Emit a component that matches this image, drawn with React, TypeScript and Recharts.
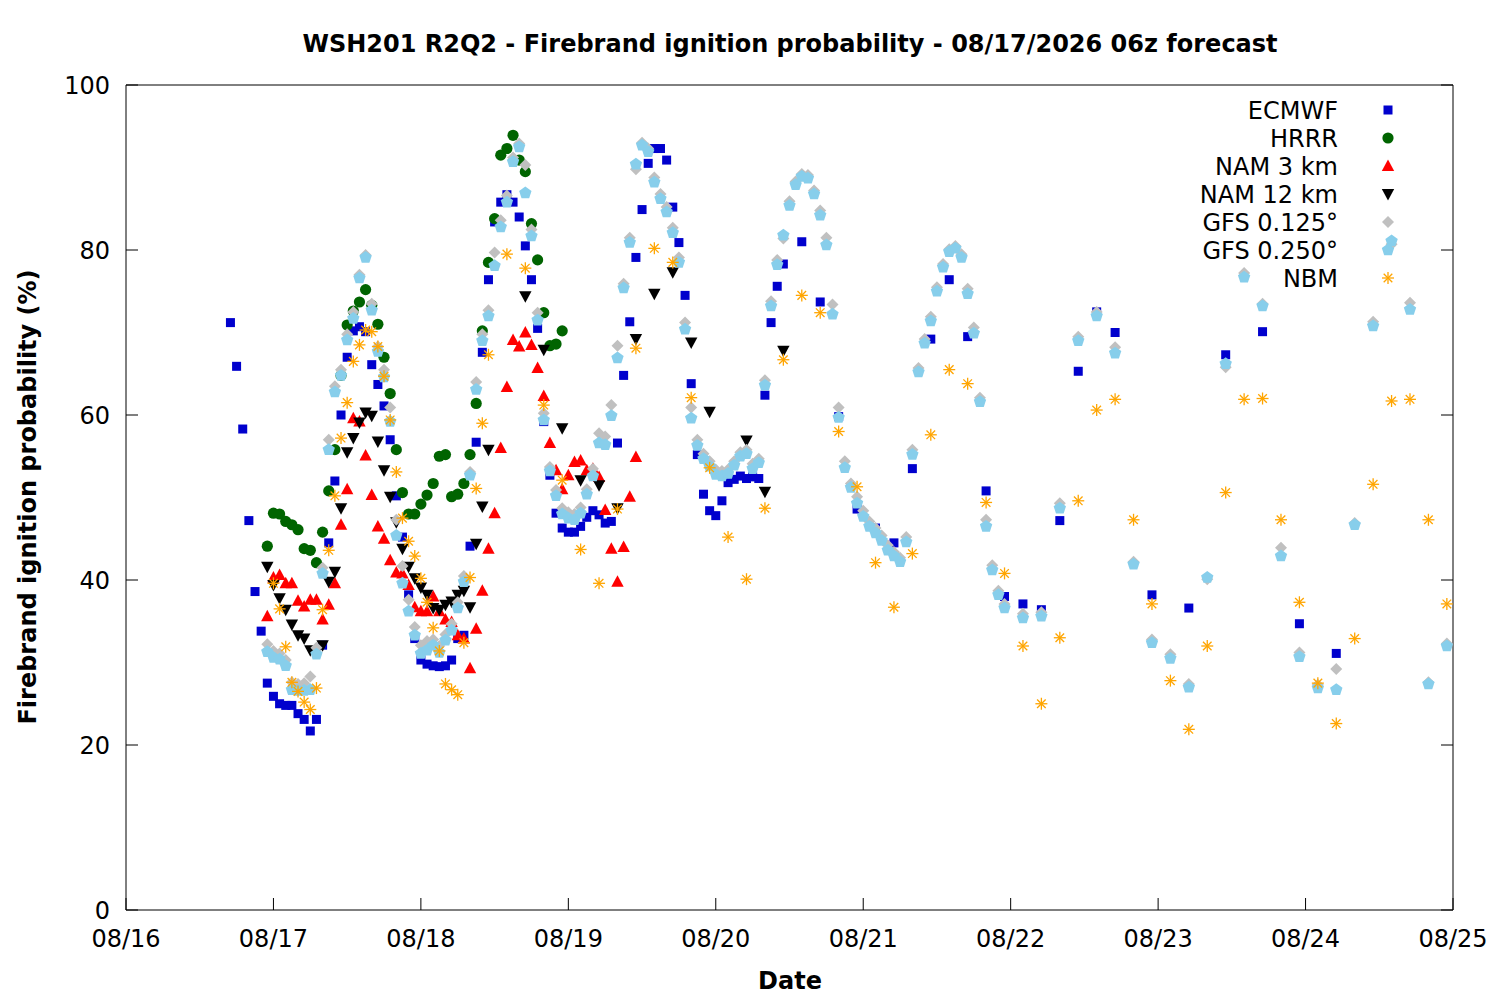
import { ScatterChart, Scatter, XAxis, YAxis, Legend } from "recharts";

type Pt = [number, number];

// x = hours since 08/16 00, y = probability (%)
const dateLabels = ["08/16", "08/17", "08/18", "08/19", "08/20", "08/21", "08/22", "08/23", "08/24", "08/25"];
const xTicks = [0, 24, 48, 72, 96, 120, 144, 168, 192, 216];
const yTicks = [0, 20, 40, 60, 80, 100];

const ECMWF: Pt[] = [
  [17, 71.2], [18, 65.9], [19, 58.3], [20, 47.2], [21, 38.6], [22, 33.8], [23, 27.5], [24, 25.9], [25, 25.0], [26, 24.8],
  [27, 24.8], [28, 23.8], [29, 23.1], [30, 21.7], [31, 23.1], [32, 32.1], [33, 44.5], [34, 52.0], [35, 60.0], [36, 67.0],
  [37, 70.2], [38, 70.7], [39, 70.1], [40, 66.1], [41, 63.7], [42, 61.1], [43, 57.0], [44, 50.2], [45, 45.2], [46, 38.2],
  [47, 32.9], [48, 30.3], [49, 29.8], [50, 29.6], [51, 29.5], [52, 29.6], [53, 30.3], [54, 32.9], [55, 33.3], [56, 44.1],
  [57, 56.7], [58, 67.6], [59, 76.4], [60, 83.4], [61, 85.8], [62, 86.7], [63, 85.8], [64, 84.0], [65, 80.5], [66, 76.4],
  [67, 70.5], [68, 59.2], [69, 52.7], [70, 48.1], [71, 46.3], [72, 45.8], [73, 45.8], [74, 46.5], [75, 47.6], [76, 48.4],
  [77, 47.9], [78, 46.9], [79, 47.1], [80, 56.6], [81, 64.8], [82, 71.3], [83, 79.1], [84, 84.9], [85, 90.5], [86, 92.3],
  [87, 92.3], [88, 90.9], [89, 85.2], [90, 80.9], [91, 74.5], [92, 63.8], [93, 55.2], [94, 50.4], [95, 48.4], [96, 47.8],
  [97, 49.6], [98, 51.8], [99, 52.2], [100, 52.6], [101, 52.3], [102, 52.5], [103, 52.3], [104, 62.4], [105, 71.2], [106, 75.6],
  [107, 78.3], [110, 81.0], [113, 73.7], [116, 59.8], [119, 48.6], [122, 46.3], [125, 44.5], [128, 53.5], [131, 69.2], [134, 76.4],
  [137, 69.5], [140, 50.8], [143, 38.0], [146, 37.1], [149, 36.4], [152, 47.2], [155, 65.3], [158, 72.5], [161, 70.0], [167, 38.2],
  [173, 36.6], [179, 67.3], [185, 70.1], [191, 34.7], [197, 31.1],
];

const HRRR: Pt[] = [
  [23, 44.1], [24, 48.1], [25, 48.0], [26, 47.1], [27, 46.7], [28, 46.1], [29, 43.8], [30, 43.6], [31, 42.1], [32, 45.8],
  [33, 50.8], [34, 55.8], [35, 64.8], [36, 70.9], [37, 72.6], [38, 73.7], [39, 75.2], [40, 73.3], [41, 71.0], [42, 67.0],
  [43, 62.6], [44, 55.8], [45, 50.6], [46, 48.0], [47, 48.0], [48, 49.2], [49, 50.3], [50, 51.7], [51, 55.0], [52, 55.2],
  [53, 50.1], [54, 50.4], [55, 51.7], [56, 55.2], [57, 61.4], [58, 70.2], [59, 78.5], [60, 83.8], [61, 91.5], [62, 92.3],
  [63, 93.9], [64, 90.9], [65, 89.5], [66, 83.2], [67, 78.8], [68, 72.4], [69, 68.4], [70, 68.6], [71, 70.2],
];

const NAM3: Pt[] = [
  [23, 35.6], [24, 40.3], [25, 40.6], [26, 39.6], [27, 39.6], [28, 37.5], [29, 36.8], [30, 37.6], [31, 37.6], [32, 35.2],
  [33, 37.0], [34, 39.6], [35, 46.7], [36, 51.0], [37, 59.6], [38, 59.2], [39, 55.1], [40, 50.3], [41, 46.5], [42, 45.0],
  [43, 42.4], [44, 40.9], [45, 40.8], [46, 39.4], [47, 36.7], [48, 36.2], [49, 36.2], [50, 38.0], [51, 36.2], [52, 35.2],
  [53, 34.9], [54, 33.3], [55, 32.9], [56, 29.3], [57, 34.1], [58, 38.7], [59, 43.8], [60, 48.1], [61, 56.0], [62, 63.4],
  [63, 69.1], [64, 68.3], [65, 70.0], [66, 68.5], [67, 65.7], [68, 62.3], [69, 56.6], [70, 53.3], [71, 51.0], [72, 52.7],
  [73, 54.3], [74, 54.5], [75, 53.3], [76, 53.5], [77, 52.5], [78, 48.5], [79, 43.8], [80, 39.8], [81, 44.0], [82, 50.1],
  [83, 54.9],
];

const NAM12: Pt[] = [
  [23, 41.6], [24, 39.4], [25, 37.8], [26, 36.4], [27, 34.6], [28, 33.3], [29, 32.9], [30, 31.5], [31, 31.4], [32, 32.1],
  [33, 39.8], [34, 41.0], [35, 48.7], [36, 55.5], [37, 57.2], [38, 59.1], [39, 60.3], [40, 59.9], [41, 56.8], [42, 53.3],
  [43, 50.1], [44, 47.0], [45, 43.8], [46, 41.6], [47, 40.2], [48, 39.1], [49, 38.2], [50, 36.6], [51, 36.4], [52, 37.0],
  [53, 37.4], [54, 38.2], [55, 38.7], [56, 36.7], [57, 44.4], [58, 48.9], [59, 55.8], [65, 74.4], [68, 67.9], [71, 58.4],
  [74, 52.1], [77, 51.5], [80, 48.7], [83, 69.2], [86, 74.7], [89, 77.3], [92, 68.8], [95, 60.4], [101, 56.9], [104, 50.7],
  [107, 67.8],
];

const GFS125: Pt[] = [
  [23, 32.2], [24, 31.4], [25, 31.1], [26, 30.3], [27, 27.6], [28, 27.4], [29, 27.5], [30, 28.3], [31, 31.8], [32, 41.5],
  [33, 57.0], [34, 63.5], [35, 65.5], [36, 69.8], [37, 72.5], [38, 77.0], [39, 79.4], [40, 73.5], [41, 68.3], [42, 65.5],
  [43, 60.9], [44, 47.3], [45, 41.7], [46, 37.6], [47, 34.3], [48, 32.1], [49, 32.6], [50, 32.8], [51, 32.0], [52, 33.4],
  [53, 34.7], [54, 37.3], [55, 40.5], [56, 53.1], [57, 64.0], [58, 69.8], [59, 72.7], [60, 79.7], [61, 83.6], [62, 86.6],
  [63, 91.2], [64, 92.9], [65, 90.3], [66, 82.5], [67, 72.4], [68, 60.2], [69, 53.7], [70, 50.9], [71, 48.7], [72, 48.2],
  [73, 48.0], [74, 48.8], [75, 51.0], [76, 53.5], [77, 57.8], [78, 57.4], [79, 61.2], [80, 68.4], [81, 75.9], [82, 81.5],
  [83, 89.8], [84, 93.0], [85, 92.3], [86, 88.8], [87, 86.8], [88, 85.2], [89, 82.7], [90, 79.1], [91, 71.2], [92, 60.9],
  [93, 57.0], [94, 55.3], [95, 54.4], [96, 53.4], [97, 53.2], [98, 53.4], [99, 54.4], [100, 55.5], [101, 55.8], [102, 54.1],
  [103, 54.7], [104, 64.2], [105, 73.8], [106, 78.8], [107, 81.4], [108, 85.9], [109, 88.3], [110, 89.2], [111, 89.1], [112, 87.2],
  [113, 84.8], [114, 81.5], [115, 73.4], [116, 60.9], [117, 54.4], [118, 51.7], [119, 50.1], [120, 48.4], [121, 47.1], [122, 46.3],
  [123, 45.4], [124, 44.2], [125, 43.4], [126, 42.7], [127, 45.2], [128, 55.8], [129, 65.7], [130, 69.2], [131, 71.9], [132, 75.5],
  [133, 78.3], [134, 80.1], [135, 80.5], [136, 79.5], [137, 75.3], [138, 70.6], [139, 62.1], [140, 47.3], [141, 41.8], [142, 38.7],
  [143, 37.1], [146, 35.9], [149, 36.1], [152, 49.3], [155, 69.5], [158, 72.5], [161, 68.2], [164, 42.2], [167, 32.8], [170, 31.0],
  [173, 27.4], [176, 40.1], [179, 65.8], [182, 77.2], [185, 73.5], [188, 43.9], [191, 31.2], [194, 27.3], [197, 29.2], [200, 46.9],
  [203, 71.3], [206, 80.7], [209, 73.6], [212, 27.6], [215, 32.3],
];

const GFS250: Pt[] = [
  [23, 31.3], [24, 30.6], [25, 30.4], [26, 29.6], [27, 26.7], [28, 26.6], [29, 26.6], [30, 26.7], [31, 31.0], [32, 40.8],
  [33, 55.8], [34, 62.8], [35, 64.8], [36, 69.1], [37, 71.7], [38, 76.6], [39, 79.1], [40, 72.7], [41, 67.7], [42, 64.6],
  [43, 59.2], [44, 45.4], [45, 39.6], [46, 36.2], [47, 33.3], [48, 31.1], [49, 31.5], [50, 32.1], [51, 31.2], [52, 32.7],
  [53, 33.9], [54, 36.6], [55, 39.8], [56, 52.7], [57, 63.1], [58, 69.0], [59, 72.0], [60, 78.1], [61, 82.8], [62, 85.8],
  [63, 90.7], [64, 92.5], [65, 86.9], [66, 81.7], [67, 71.5], [68, 59.4], [69, 53.2], [70, 50.2], [71, 48.0], [72, 47.5],
  [73, 47.3], [74, 48.1], [75, 50.4], [76, 52.6], [77, 56.6], [78, 56.4], [79, 59.9], [80, 66.9], [81, 75.4], [82, 80.9],
  [83, 90.4], [84, 92.7], [85, 91.9], [86, 88.2], [87, 86.2], [88, 84.6], [89, 82.1], [90, 78.5], [91, 70.4], [92, 59.6],
  [93, 56.3], [94, 54.7], [95, 53.8], [96, 52.8], [97, 52.6], [98, 52.9], [99, 53.9], [100, 55.0], [101, 55.3], [102, 53.5],
  [103, 54.2], [104, 63.6], [105, 73.2], [106, 78.2], [107, 81.8], [108, 85.4], [109, 87.9], [110, 88.9], [111, 88.7], [112, 86.8],
  [113, 84.2], [114, 80.6], [115, 72.2], [116, 59.7], [117, 53.6], [118, 51.2], [119, 49.3], [120, 47.7], [121, 46.5], [122, 45.7],
  [123, 44.8], [124, 43.6], [125, 42.9], [126, 42.2], [127, 44.6], [128, 55.2], [129, 65.2], [130, 68.7], [131, 71.4], [132, 75.0],
  [133, 77.9], [134, 79.8], [135, 80.2], [136, 79.1], [137, 74.7], [138, 69.9], [139, 61.6], [140, 46.5], [141, 41.2], [142, 38.2],
  [143, 36.6], [146, 35.4], [149, 35.6], [152, 48.7], [155, 69.0], [158, 72.0], [161, 67.5], [164, 41.9], [167, 32.4], [170, 30.5],
  [173, 27.0], [176, 40.3], [179, 66.2], [182, 76.7], [185, 73.2], [188, 42.9], [191, 30.7], [194, 26.9], [197, 26.7], [200, 46.7],
  [203, 70.8], [206, 81.1], [209, 72.8], [212, 27.4], [215, 32.0],
];

const NBM: Pt[] = [
  [24, 39.6], [25, 36.5], [26, 31.9], [27, 27.6], [28, 26.5], [29, 25.2], [30, 24.3], [31, 26.9], [32, 36.4], [33, 43.6],
  [34, 50.2], [35, 57.2], [36, 61.5], [37, 66.5], [38, 68.5], [39, 70.3], [40, 70.1], [41, 68.3], [42, 64.7], [43, 59.4],
  [44, 53.1], [45, 47.5], [46, 44.7], [47, 42.9], [48, 40.2], [49, 37.3], [50, 34.2], [51, 31.4], [52, 27.4], [53, 26.7],
  [54, 26.1], [55, 32.4], [56, 40.3], [57, 51.1], [58, 59.0], [59, 67.3], [62, 79.5], [65, 77.8], [68, 61.2], [71, 52.1],
  [74, 43.7], [77, 39.6], [80, 48.6], [83, 68.1], [86, 80.2], [89, 78.5], [92, 62.1], [95, 53.6], [98, 45.2], [101, 40.1],
  [104, 48.7], [107, 66.7], [110, 74.5], [113, 72.4], [116, 58.0], [119, 51.3], [122, 42.1], [125, 36.7], [128, 43.2], [131, 57.6],
  [134, 65.5], [137, 63.8], [140, 49.4], [143, 40.8], [146, 32.0], [149, 25.0], [152, 33.0], [155, 49.6], [158, 60.6], [161, 61.9],
  [164, 47.3], [167, 37.1], [170, 27.8], [173, 21.9], [176, 32.0], [179, 50.6], [182, 61.9], [185, 62.0], [188, 47.3], [191, 37.3],
  [194, 27.5], [197, 22.6], [200, 32.9], [203, 51.6], [206, 61.7], [209, 61.9], [212, 47.3], [215, 37.1],
];

const FONT = "'DejaVu Sans', sans-serif";

const toData = (pts: Pt[]) => pts.map(([x, y]) => ({ x, y }));

// marker glyphs (gnuplot-like point types)
const square = (cx: number, cy: number) => <rect x={cx - 4.5} y={cy - 4.5} width={9} height={9} fill="#0000cd" />;
const circle = (cx: number, cy: number) => <circle cx={cx} cy={cy} r={5.6} fill="#006400" />;
const triUp = (cx: number, cy: number) => (
  <polygon points={`${cx},${cy - 6.5} ${cx + 6.2},${cy + 5} ${cx - 6.2},${cy + 5}`} fill="#ff0000" />
);
const triDown = (cx: number, cy: number) => (
  <polygon points={`${cx - 6.2},${cy - 5} ${cx + 6.2},${cy - 5} ${cx},${cy + 6.5}`} fill="#000000" />
);
const diamond = (cx: number, cy: number) => (
  <polygon points={`${cx},${cy - 6} ${cx + 6},${cy} ${cx},${cy + 6} ${cx - 6},${cy}`} fill="#c0c0c0" />
);
const pentagon = (cx: number, cy: number) => {
  const pts = [0, 1, 2, 3, 4]
    .map((k) => {
      const a = ((-90 + 72 * k) * Math.PI) / 180;
      return `${cx + 6.5 * Math.cos(a)},${cy + 6.5 * Math.sin(a)}`;
    })
    .join(" ");
  return <polygon points={pts} fill="#87ceeb" />;
};
const star = (cx: number, cy: number) => (
  <g stroke="#ffa500" strokeWidth={1.3}>
    <line x1={cx - 6} y1={cy} x2={cx + 6} y2={cy} />
    <line x1={cx} y1={cy - 6} x2={cx} y2={cy + 6} />
    <line x1={cx - 4.3} y1={cy - 4.3} x2={cx + 4.3} y2={cy + 4.3} />
    <line x1={cx - 4.3} y1={cy + 4.3} x2={cx + 4.3} y2={cy - 4.3} />
  </g>
);

const series = [
  { name: "ECMWF", data: ECMWF, glyph: square },
  { name: "HRRR", data: HRRR, glyph: circle },
  { name: "NAM 3 km", data: NAM3, glyph: triUp },
  { name: "NAM 12 km", data: NAM12, glyph: triDown },
  { name: "GFS 0.125°", data: GFS125, glyph: diamond },
  { name: "GFS 0.250°", data: GFS250, glyph: pentagon },
  { name: "NBM", data: NBM, glyph: star },
];

const tickStyle = { fill: "#000", fontSize: 24, fontFamily: FONT };

function LegendBox() {
  return (
    <svg width={270} height={200} style={{ overflow: "visible" }}>
      {series.map((s, i) => {
        const cy = 16 + i * 28;
        return (
          <g key={s.name}>
            <text x={188} y={cy + 8.5} textAnchor="end" fontSize={24} fontFamily={FONT} fill="#000">
              {s.name}
            </text>
            {s.glyph(238, cy)}
          </g>
        );
      })}
    </svg>
  );
}

export default function App() {
  return (
    <div style={{ position: "absolute", left: 0, top: 0, width: 1500, height: 1000, background: "#fff", fontFamily: FONT }}>
      <ScatterChart width={1500} height={1000} margin={{ top: 55, right: 0, bottom: 0, left: 0 }}>
        <XAxis
          dataKey="x"
          type="number"
          domain={[0, 216]}
          ticks={xTicks}
          interval={0}
          height={90}
          tickSize={-12}
          tickMargin={32}
          tick={tickStyle}
          tickFormatter={(v: number) => dateLabels[xTicks.indexOf(v)] ?? ""}
          stroke="#000"
          tickLine={{ stroke: "#000" }}
        />
        <XAxis
          xAxisId="top"
          orientation="top"
          type="number"
          domain={[0, 216]}
          ticks={xTicks}
          interval={0}
          height={30}
          tickSize={-12}
          tickFormatter={() => ""}
          stroke="#000"
          tickLine={{ stroke: "#000" }}
          allowDataOverflow
        />
        <YAxis
          dataKey="y"
          type="number"
          domain={[0, 100]}
          ticks={yTicks}
          interval={0}
          width={126}
          tickSize={-12}
          tickMargin={28}
          tick={tickStyle}
          stroke="#000"
          tickLine={{ stroke: "#000" }}
        />
        <YAxis
          yAxisId="right"
          orientation="right"
          type="number"
          domain={[0, 100]}
          ticks={yTicks}
          interval={0}
          width={47}
          tickSize={-12}
          tickFormatter={() => ""}
          stroke="#000"
          tickLine={{ stroke: "#000" }}
          allowDataOverflow
        />
        <Legend
          layout="vertical"
          align="center"
          verticalAlign="middle"
          wrapperStyle={{ left: 1150, top: 94, width: 270, height: 200 }}
          content={() => <LegendBox />}
        />
        {series.map((s) => (
          <Scatter
            key={s.name}
            name={s.name}
            data={toData(s.data)}
            isAnimationActive={false}
            shape={(p: any) => s.glyph(p.cx, p.cy)}
          />
        ))}
      </ScatterChart>
      <svg width={1500} height={1000} style={{ position: "absolute", left: 0, top: 0, pointerEvents: "none" }}>
        <text x={790} y={52} textAnchor="middle" fontSize={24} fontWeight="bold" fontFamily={FONT} fill="#000">
          WSH201 R2Q2 - Firebrand ignition probability - 08/17/2026 06z forecast
        </text>
        <text
          transform="translate(36,497) rotate(-90)"
          textAnchor="middle"
          fontSize={24}
          fontWeight="bold"
          fontFamily={FONT}
          fill="#000"
        >
          Firebrand ignition probability (%)
        </text>
        <text x={790} y={989} textAnchor="middle" fontSize={24} fontWeight="bold" fontFamily={FONT} fill="#000">
          Date
        </text>
      </svg>
    </div>
  );
}
